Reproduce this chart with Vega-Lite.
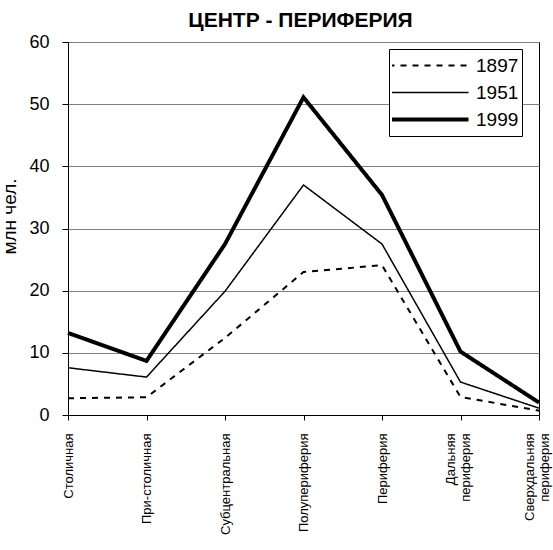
{
  "$schema": "https://vega.github.io/schema/vega-lite/v6.json",
  "autosize": "none",
  "width": 471,
  "height": 373,
  "padding": {"left": 68, "top": 42, "right": 14, "bottom": 135},
  "background": "white",
  "title": {"text": "ЦЕНТР - ПЕРИФЕРИЯ", "font": "Liberation Sans", "fontSize": 21, "fontWeight": "bold", "color": "black", "anchor": "middle", "offset": 2, "dx": -3},
  "config": {
    "font": "Liberation Sans",
    "view": {"stroke": "black", "strokeWidth": 1}
  },
  "data": {"values": [
    {"zone": "Столичная", "year": "1897", "value": 2.7},
    {"zone": "При-столичная", "year": "1897", "value": 2.85},
    {"zone": "Субцентральная", "year": "1897", "value": 12.4},
    {"zone": "Полупериферия", "year": "1897", "value": 23.0},
    {"zone": "Периферия", "year": "1897", "value": 24.1},
    {"zone": "Дальняя периферия", "year": "1897", "value": 2.9},
    {"zone": "Сверхдальняя периферия", "year": "1897", "value": 0.7},
    {"zone": "Столичная", "year": "1951", "value": 7.6},
    {"zone": "При-столичная", "year": "1951", "value": 6.1},
    {"zone": "Субцентральная", "year": "1951", "value": 19.9},
    {"zone": "Полупериферия", "year": "1951", "value": 37.0},
    {"zone": "Периферия", "year": "1951", "value": 27.5},
    {"zone": "Дальняя периферия", "year": "1951", "value": 5.3},
    {"zone": "Сверхдальняя периферия", "year": "1951", "value": 1.1},
    {"zone": "Столичная", "year": "1999", "value": 13.2},
    {"zone": "При-столичная", "year": "1999", "value": 8.7},
    {"zone": "Субцентральная", "year": "1999", "value": 27.5},
    {"zone": "Полупериферия", "year": "1999", "value": 51.1},
    {"zone": "Периферия", "year": "1999", "value": 35.4},
    {"zone": "Дальняя периферия", "year": "1999", "value": 10.2},
    {"zone": "Сверхдальняя периферия", "year": "1999", "value": 2.0}
  ]},
  "mark": {"type": "line", "color": "black"},
  "encoding": {
    "x": {
      "field": "zone", "type": "nominal",
      "sort": ["Столичная", "При-столичная", "Субцентральная", "Полупериферия", "Периферия", "Дальняя периферия", "Сверхдальняя периферия"],
      "scale": {"type": "point", "padding": 0},
      "axis": {"title": null, "labelAngle": -90, "labelAlign": "right", "labelBaseline": "middle", "labelFontSize": 13, "labelColor": "black", "labelPadding": 13, "labelExpr": "split(datum.label, ' ')", "labelLineHeight": 15, "labelOffset": {"condition": {"test": "indexof(datum.label, ' ') >= 0", "value": -10}, "value": 0}, "tickColor": "black", "tickSize": 5, "domainColor": "black", "grid": false, "labelFlush": false, "labelOverlap": false}
    },
    "y": {
      "field": "value", "type": "quantitative",
      "scale": {"domain": [0, 60], "nice": false},
      "axis": {"title": "млн чел.", "titleFontSize": 19, "titleFontWeight": "normal", "titleColor": "black", "titlePadding": 9, "titleY": 174, "values": [0, 10, 20, 30, 40, 50, 60], "labelFontSize": 18, "labelColor": "black", "labelPadding": 13, "tickColor": "black", "tickSize": 6, "domainColor": "black", "gridColor": "#808080", "gridOpacity": 1}
    },
    "strokeDash": {
      "field": "year", "type": "nominal",
      "scale": {"domain": ["1897", "1951", "1999"], "range": [[6, 6], [1, 0], [1, 0]]},
      "legend": {"title": null, "orient": "none", "legendX": 321, "legendY": 7, "strokeColor": "black", "fillColor": "white", "padding": 3, "labelFontSize": 19, "labelColor": "black", "labelOffset": 38, "symbolOffset": 27, "symbolType": "stroke", "symbolSize": 6400, "symbolStrokeColor": "black", "rowPadding": 0, "clipHeight": 27,
        "encode": {"symbols": {"update": {"strokeWidth": {"signal": "datum.value === '1999' ? 4 : datum.value === '1897' ? 2 : 1.5"}}}}}
    },
    "strokeWidth": {
      "condition": [{"test": "datum.year === '1999'", "value": 4}, {"test": "datum.year === '1897'", "value": 2}],
      "value": 1.5
    }
  }
}
